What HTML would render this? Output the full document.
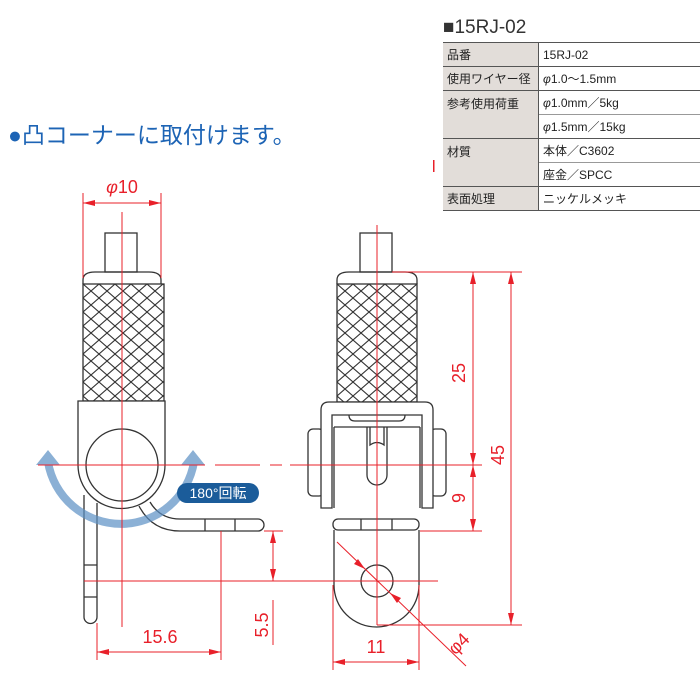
<!DOCTYPE html>
<html><head><meta charset="utf-8"><style>
body{margin:0;width:700px;height:700px;background:#fff;overflow:hidden;position:relative;font-family:"Liberation Sans","Noto Sans CJK JP",sans-serif}
.t{position:absolute;left:443px;top:17px;font-size:19px;color:#333}
table{position:absolute;left:443px;top:42px;width:257px;border-collapse:collapse;font-size:12px;color:#222}
td{height:23px;padding:0 0 0 4px;border-top:1px solid #555;vertical-align:middle}
td.l{background:#e2ddd9;width:91px;border-right:1px solid #555}
td.r2{border-top:1px solid #999}
tr:last-child td{border-bottom:1px solid #555}
.h{position:absolute;left:8px;top:116px;font-size:23px;color:#1d64b5}
</style></head><body>
<div class="t">■15RJ-02</div>
<table>
<tr><td class="l">品番</td><td>15RJ-02</td></tr>
<tr><td class="l">使用ワイヤー径</td><td><i>φ</i>1.0〜1.5mm</td></tr>
<tr><td class="l" rowspan="2" style="vertical-align:top;padding-top:4px">参考使用荷重</td><td><i>φ</i>1.0mm／5kg</td></tr>
<tr><td class="r2"><i>φ</i>1.5mm／15kg</td></tr>
<tr><td class="l" rowspan="2" style="vertical-align:top;padding-top:4px">材質</td><td>本体／C3602</td></tr>
<tr><td class="r2">座金／SPCC</td></tr>
<tr><td class="l">表面処理</td><td>ニッケルメッキ</td></tr>
</table>
<div class="h">●凸コーナーに取付けます。</div>
<svg width="700" height="700" style="position:absolute;left:0;top:0" font-family="Liberation Sans, sans-serif">
<defs>
<pattern id="k" x="83" y="284" width="16" height="14" patternUnits="userSpaceOnUse">
<path d="M0 0L16 14M16 0L0 14" stroke="#333" stroke-width="1.1"/>
</pattern>
<pattern id="k2" x="337" y="284" width="16" height="14" patternUnits="userSpaceOnUse">
<path d="M0 0L16 14M16 0L0 14" stroke="#333" stroke-width="1.1"/>
</pattern>
</defs>
<g fill="none" stroke="#333" stroke-width="1.3">
<rect x="105" y="233" width="32" height="39"/>
<path d="M83 284 V280 Q83 272 95 272 H149 Q161 272 161 280 V284"/>
<rect x="83" y="284" width="81" height="117" fill="url(#k)"/>
<path d="M78 401 H165 V465 A43 43 0 0 1 78 465 Z" fill="#fff"/>
<circle cx="122" cy="465" r="36"/>
<path d="M84 495 V617 A6.5 6.5 0 0 0 97 617 V503"/>
<path d="M84 565 H97 M84 597 H97"/>
<path d="M150 502 Q160 519 180 519 H258 A6 6 0 0 1 258 531 H180 Q152 531 139 506"/>
<path d="M205 519 V531 M235 519 V531"/>
<rect x="360" y="233" width="32" height="39"/>
<path d="M337 284 V280 Q337 272 349 272 H405 Q417 272 417 280 V284"/>
<rect x="337" y="284" width="80" height="118" fill="url(#k2)"/>
<rect x="308" y="429" width="16" height="67" rx="5"/>
<rect x="430" y="429" width="16" height="67" rx="5"/>
<path d="M321 508 V410 Q321 402 329 402 H425 Q433 402 433 410 V508 H422 V415 H332 V508 Z" fill="#fff"/>
<path d="M334 427 H420 M334 427 V508 M420 427 V508"/>
<path d="M349 415 Q349 421 355 421 H399 Q405 421 405 415"/>
<path d="M367 427 V475 A10 10 0 0 0 387 475 V427"/>
<path d="M370 427 V445 Q377 440 384 445 V427"/>
<rect x="333" y="519" width="86" height="11" rx="5"/>
<path d="M361 519 V530 M392 519 V530"/>
<path d="M334 530 V585 A42.5 42 0 0 0 419 585 V530"/>
<circle cx="377" cy="581" r="16"/>
</g>
<g opacity="0.7">
<path d="M48 462 A74 74 0 0 0 194 462" fill="none" stroke="#5b90c4" stroke-width="8"/>
<path d="M36 465 L48 450 L60 465 Z M181 465 L193 450 L205 465 Z" fill="#5b90c4"/>
</g>
<rect x="177" y="483" width="82" height="20" rx="10" fill="#1b5c9a"/>
<text x="218" y="498" font-size="14" fill="#fff" text-anchor="middle" font-family="Liberation Sans, Noto Sans CJK JP, sans-serif">180°回転</text>
<g stroke="#e8202a" stroke-width="1" fill="none">
<path d="M83 193 V278 M161 193 V278 M83 203 H161"/>
<path d="M122 212 V627"/>
<path d="M38 465 H205"/><path d="M215 465 H260 M270 465 H282"/>
<path d="M290 465 H482"/>
<path d="M221 531 V660 M97 623 V660 M97 652 H221"/>
<path d="M264 531 H283 M273 531 V581 M273 600 V645"/>
<path d="M84 581 H438"/>
<path d="M377 225 V625"/>
<path d="M392 272 H522 M473 272 V531 M420 531 H482 M511 272 V625 M377 625 H522"/>
<path d="M333 585 V670 M419 585 V670 M333 662 H419"/>
<path d="M337 542 L466 666"/>
</g>
<g fill="#e8202a">
<path d="M83 203 l12 -3 v6z M161 203 l-12 -3 v6z"/>
<path d="M97 652 l12 -3 v6z M221 652 l-12 -3 v6z"/>
<path d="M273 531 l-3 12 h6z M273 581 l-3 -12 h6z"/>
<path d="M473 272 l-3 12 h6z M473 465 l-3 -12 h6z M473 465 l-3 12 h6z M473 531 l-3 -12 h6z"/>
<path d="M511 272 l-3 12 h6z M511 625 l-3 -12 h6z"/>
<path d="M333 662 l12 -3 v6z M419 662 l-12 -3 v6z"/>
<path d="M365 569 l-11 -5 l4 -5z M390 593 l11 5 l-4 5z"/>
<rect x="433" y="160" width="1.5" height="12"/>
</g>
<g fill="#e8202a" font-size="18" text-anchor="middle">
<text x="122" y="193"><tspan font-style="italic">φ</tspan>10</text>
<text x="160" y="643">15.6</text>
<text x="376" y="653">11</text>
<text transform="translate(268,625) rotate(-90)">5.5</text>
<text transform="translate(465,373) rotate(-90)">25</text>
<text transform="translate(465,498) rotate(-90)">9</text>
<text transform="translate(504,455) rotate(-90)">45</text>
<text transform="translate(463,648) rotate(-45)">φ4</text>
</g>
</svg>
</body></html>
